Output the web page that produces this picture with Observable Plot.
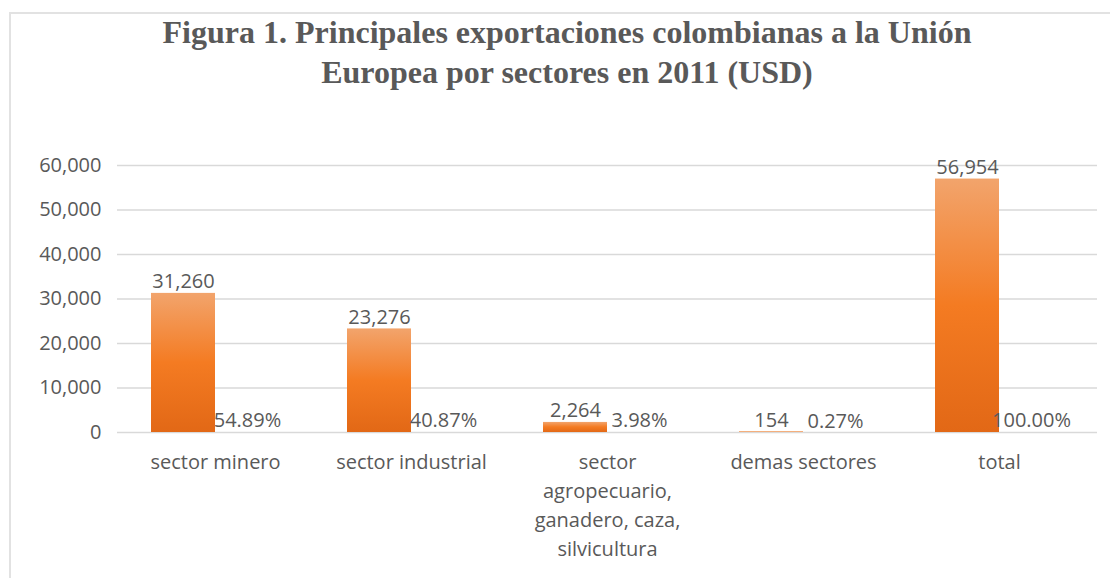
<!DOCTYPE html>
<html>
<head>
<meta charset="utf-8">
<script src="https://cdn.jsdelivr.net/npm/d3@7"></script>
<script src="https://cdn.jsdelivr.net/npm/@observablehq/plot@0.6"></script>
<style>
  html, body { margin: 0; padding: 0; background: #fff; width: 1110px; height: 578px; overflow: hidden; }
  #frame { position: absolute; left: 9px; top: 12px; width: 1200px; height: 700px; border-left: 2px solid #e2e2e2; border-top: 2px solid #e2e2e2; }
  #title { position: absolute; left: 0; top: 12px; width: 1134px; text-align: center; font-family: "Liberation Serif", serif; font-weight: bold; font-size: 32px; line-height: 40px; color: #595959; }
  #chart { position: absolute; left: 0; top: 0; }
</style>
</head>
<body>
<div id="frame"></div>
<div id="title">Figura 1. Principales exportaciones colombianas a la Unión<br>Europea por sectores en 2011 (USD)</div>
<div id="chart"></div>
<script>
const categories = ["sector minero", "sector industrial", "sector agropecuario, ganadero, caza, silvicultura", "demas sectores", "total"];
const categoryLabels = ["sector minero", "sector industrial", "sector\nagropecuario,\nganadero, caza,\nsilvicultura", "demas sectores", "total"];
const values = [31260, 23276, 2264, 154, 56954];
const valueLabels = ["31,260", "23,276", "2,264", "154", "56,954"];
const percents = [54.89, 40.87, 3.98, 0.27, 100.00];
const percentLabels = ["54.89%", "40.87%", "3.98%", "0.27%", "100.00%"];
const yTicks = [0, 10000, 20000, 30000, 40000, 50000, 60000];
const series = ["valor", "porcentaje"];

const rows = [];
categories.forEach((c, i) => {
  rows.push({cat: c, s: "valor", v: values[i], label: valueLabels[i]});
  rows.push({cat: c, s: "porcentaje", v: percents[i] / 100, label: percentLabels[i]});
});
const catRows = categories.map((c, i) => ({cat: c, text: categoryLabels[i]}));

const font = "'Open Sans', sans-serif";
const chart = Plot.plot({
  width: 1110,
  height: 578,
  marginTop: 165,
  marginBottom: 146,
  marginLeft: 116,
  marginRight: 12,
  style: {fontFamily: font, fontSize: "20px", color: "#595959", background: "transparent"},
  fx: {domain: categories, padding: 0, axis: null},
  x: {domain: series, paddingInner: 0, paddingOuter: 0.51, axis: null},
  y: {domain: [0, 60000], ticks: yTicks, tickFormat: d3.format(","), tickSize: 0, tickPadding: 16, label: null},
  marks: [
    Plot.ruleY(yTicks, {stroke: "#d9d9d9", strokeWidth: 1.5}),
    Plot.barY(rows, {fx: "cat", x: "s", y: "v", fill: d => d.s === "valor" ? "url(#og)" : "#a5a5a5"}),
    Plot.text(rows, {fx: "cat", x: "s", y: "v", text: "label", lineAnchor: "bottom", dy: -5, fill: "#595959", fontSize: 20}),
    Plot.text(catRows, {fx: "cat", text: "text", frameAnchor: "bottom", lineAnchor: "top", dy: 16, lineHeight: 1.45, fill: "#595959", fontSize: 20})
  ]
});
const svg = d3.select(chart);
const defs = svg.insert("defs", ":first-child");
const g = defs.append("linearGradient").attr("id", "og").attr("x1", 0).attr("y1", 0).attr("x2", 0).attr("y2", 1);
g.append("stop").attr("offset", "0%").attr("stop-color", "#f2a46c");
g.append("stop").attr("offset", "50%").attr("stop-color", "#f47b22");
g.append("stop").attr("offset", "100%").attr("stop-color", "#e26816");
document.getElementById("chart").appendChild(chart);
</script>
</body>
</html>
